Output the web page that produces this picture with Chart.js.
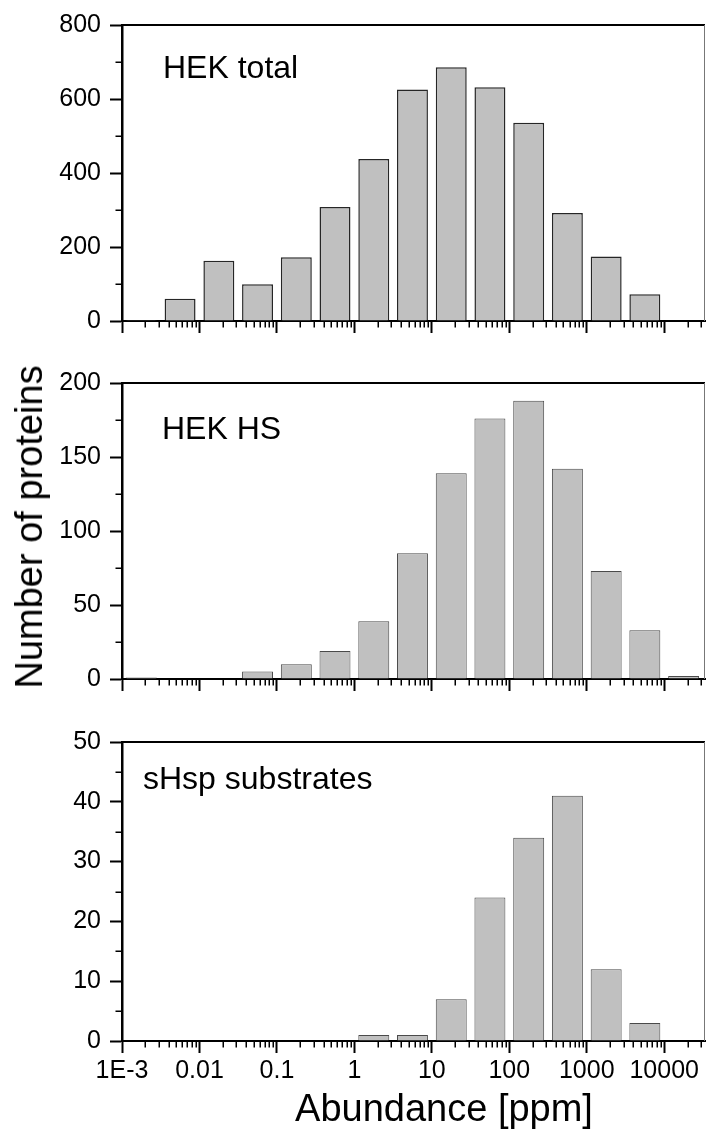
<!DOCTYPE html>
<html>
<head>
<meta charset="utf-8">
<title>Abundance distributions</title>
<script src="https://cdn.jsdelivr.net/npm/chart.js@4.4.1/dist/chart.umd.min.js"></script>
<style>
  body { margin: 0; background: #fff; }
  #figure { position: relative; width: 706px; height: 1131px; overflow: hidden;
            font-family: "Liberation Sans", Arial, sans-serif; color: #000; }
  #figure canvas { position: absolute; left: 0; }
  .axis-title { position: absolute; font-size: 38px; line-height: 1; white-space: nowrap; }
  #yTitle { left: 29px; top: 527px; transform: translate(-50%, -50%) rotate(-90deg); }
  #xTitle { left: 444px; top: 1089px; transform: translateX(-50%); }
</style>
</head>
<body>
<div id="figure">
  <canvas id="hekTotal" width="706" height="345" style="top:0"></canvas>
  <canvas id="hekHs" width="706" height="345" style="top:358px"></canvas>
  <canvas id="shspSubstrates" width="706" height="414" style="top:717px"></canvas>
  <div class="axis-title" id="yTitle">Number of proteins</div>
  <div class="axis-title" id="xTitle">Abundance [ppm]</div>
</div>
<script>
// half-decade abundance bins (ppm), bar centres
var binCenters = [0.00178, 0.00562, 0.0178, 0.0562, 0.178, 0.562, 1.78, 5.62,
                  17.8, 56.2, 178, 562, 1780, 5620, 17800];

// proteins per bin
var hekTotalCounts = [3, 60, 163, 99, 172, 308, 438, 626, 686, 632, 536, 292, 174, 72, 2];
var hekHsCounts    = [1, 0, 0, 5, 10, 19, 39, 85, 139, 176, 188, 142, 73, 33, 2];
var shspCounts     = [0, 0, 0, 0, 0, 0, 1, 1, 7, 24, 34, 41, 12, 3, 0];

// x axis decades and their labels
var decadeTicks = [0.001, 0.01, 0.1, 1, 10, 100, 1000, 10000];
var decadeLabels = ['1E-3', '0.01', '0.1', '1', '10', '100', '1000', '10000'];
var xMin = 0.001, xMax = 33600;

Chart.defaults.font.family = '"Liberation Sans", Arial, sans-serif';
Chart.defaults.color = '#000';

// unlabeled minor ticks (2..9 per decade, half steps on y) plus the top/right frame
var minorTicks = {
  id: 'minorTicks',
  afterDraw: function (chart, args, opts) {
    var ctx = chart.ctx, area = chart.chartArea;
    var x = chart.scales.x, y = chart.scales.y;
    ctx.save();
    ctx.strokeStyle = '#000';
    ctx.lineWidth = 1.5;
    ctx.beginPath();
    for (var e = -3; e <= 4; e++) {
      for (var m = 2; m <= 9; m++) {
        var v = m * Math.pow(10, e);
        if (v >= x.max) break;
        var px = Math.round(x.getPixelForValue(v)) + 0.25;
        ctx.moveTo(px, area.bottom);
        ctx.lineTo(px, area.bottom + opts.length);
      }
    }
    for (var t = opts.yStep / 2; t < y.max; t += opts.yStep) {
      var py = Math.round(y.getPixelForValue(t)) + 0.25;
      ctx.moveTo(area.left, py);
      ctx.lineTo(area.left - opts.length, py);
    }
    ctx.stroke();

    ctx.lineWidth = 2;
    ctx.beginPath();
    ctx.moveTo(area.left, area.top);
    ctx.lineTo(area.right, area.top);
    ctx.stroke();
    ctx.strokeStyle = '#777';
    ctx.lineWidth = 1;
    ctx.beginPath();
    ctx.moveTo(area.right - 0.5, area.top);
    ctx.lineTo(area.right - 0.5, area.bottom);
    ctx.stroke();
    ctx.restore();
  }
};

// sample name written inside the plot area
var panelLabel = {
  id: 'panelLabel',
  afterDraw: function (chart, args, opts) {
    var ctx = chart.ctx, area = chart.chartArea;
    ctx.save();
    ctx.fillStyle = '#000';
    ctx.font = '32px "Liberation Sans", Arial, sans-serif';
    ctx.textBaseline = 'alphabetic';
    ctx.fillText(opts.text, area.left + opts.dx, area.top + opts.dy);
    ctx.restore();
  }
};

function makePanel(id, counts, yMax, yStep, label, labelPos, showXLabels, xAxisHeight, barBorder) {
  var points = [];
  binCenters.forEach(function (c, i) {
    if (counts[i] > 0) points.push({ x: c, y: counts[i] });
  });

  return new Chart(document.getElementById(id), {
    type: 'bar',
    data: {
      datasets: [{
        data: points,
        backgroundColor: '#c0c0c0',
        borderColor: barBorder.color,
        borderWidth: barBorder.width,
        categoryPercentage: 1,
        barPercentage: 0.8
      }]
    },
    options: {
      responsive: false,
      animation: false,
      layout: { padding: { top: 25, right: 1, left: 0, bottom: 0 } },
      plugins: {
        legend: { display: false },
        tooltip: { enabled: false },
        minorTicks: { length: 6.5, yStep: yStep },
        panelLabel: { text: label, dx: labelPos[0], dy: labelPos[1] }
      },
      scales: {
        x: {
          type: 'logarithmic',
          min: xMin,
          max: xMax,
          offset: false,
          grid: { offset: false, drawOnChartArea: false, drawTicks: true,
                  tickLength: 12, tickWidth: 2, tickColor: '#000' },
          border: { display: true, color: '#000', width: 2 },
          ticks: {
            display: showXLabels,
            autoSkip: false,
            maxRotation: 0,
            padding: 3,
            font: { size: 25 },
            callback: function (value, index) { return decadeLabels[index]; }
          },
          afterBuildTicks: function (scale) {
            scale.ticks = decadeTicks.map(function (v) { return { value: v }; });
          },
          afterFit: function (scale) { scale.height = xAxisHeight; }
        },
        y: {
          min: 0,
          max: yMax,
          grid: { drawOnChartArea: false, drawTicks: true,
                  tickLength: 12, tickWidth: 2, tickColor: '#000' },
          border: { display: true, color: '#000', width: 2.5 },
          ticks: { stepSize: yStep, padding: 9, font: { size: 25 } },
          afterFit: function (scale) { scale.width = 122; }
        }
      }
    },
    plugins: [minorTicks, panelLabel]
  });
}

makePanel('hekTotal', hekTotalCounts, 800, 200, 'HEK total', [41, 53], false, 21,
          { color: '#262626', width: 1.5 });
makePanel('hekHs', hekHsCounts, 200, 50, 'HEK HS', [40, 56], false, 21,
          { color: '#4a4a4a', width: 1 });
makePanel('shspSubstrates', shspCounts, 50, 10, 'sHsp substrates', [21, 47], true, 90,
          { color: '#4a4a4a', width: 1 });
</script>
</body>
</html>
